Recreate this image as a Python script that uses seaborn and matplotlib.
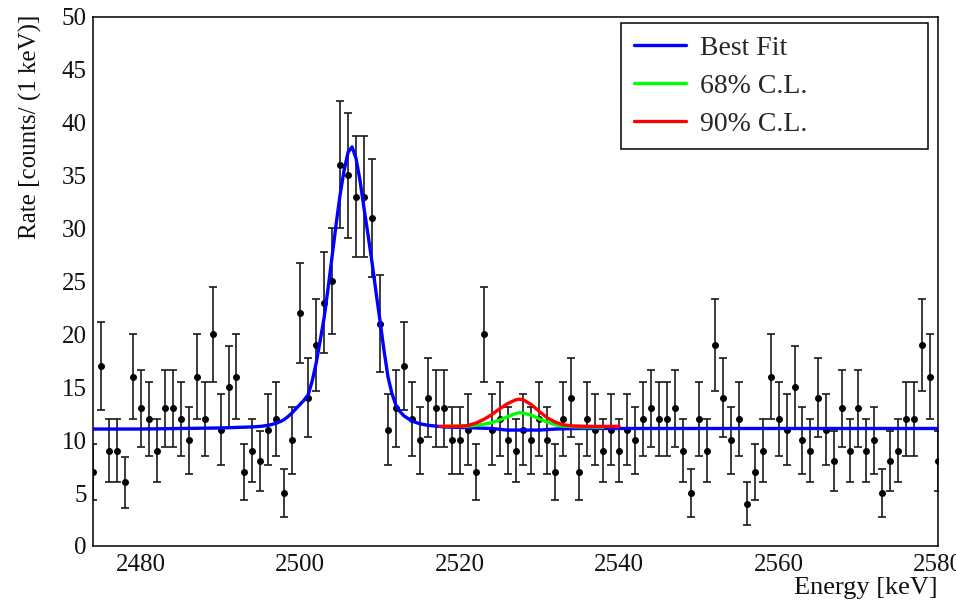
import matplotlib
matplotlib.use("Agg")
import matplotlib.pyplot as plt
import matplotlib.ticker as mticker
from matplotlib.lines import Line2D
import numpy as np
import seaborn as sns

# measured spectrum, one bin per keV
ENERGY = list(range(2474, 2581))
COUNTS = [
    7, 17, 9, 9, 6, 16, 13, 12, 9, 13,
    13, 12, 10, 16, 12, 20, 11, 15, 16, 7,
    9, 8, 11, 12, 5, 10, 22, 14, 19, 23,
    25, 36, 35, 33, 33, 31, 21, 11, 13, 17,
    12, 10, 14, 13, 13, 10, 10, 11, 7, 20,
    11, 12, 10, 9, 11, 10, 12, 10, 7, 12,
    14, 7, 12, 11, 9, 11, 9, 11, 10, 12,
    13, 12, 12, 13, 9, 5, 12, 9, 19, 14,
    10, 12, 4, 7, 9, 16, 12, 11, 15, 10,
    9, 14, 11, 8, 13, 9, 13, 9, 10, 5,
    8, 9, 12, 12, 19, 16, 8,
]

# best fit curve
FIT_E = [2474, 2480, 2485, 2490, 2492, 2494, 2495, 2496, 2497, 2497.5,
         2498, 2498.5, 2499, 2499.5, 2500, 2500.5, 2501, 2501.5, 2502, 2502.5,
         2503, 2503.5, 2504, 2504.5, 2505, 2505.5, 2506, 2506.5, 2507, 2507.5,
         2508, 2508.5, 2509, 2509.5, 2510, 2510.5, 2511, 2511.5, 2512, 2512.5,
         2513, 2514, 2515, 2516, 2518, 2520, 2524, 2526, 2530, 2532,
         2535, 2580]
FIT_RATE = [11.05, 11.05, 11.1, 11.15, 11.2, 11.25, 11.3, 11.4, 11.6, 11.75,
            11.95, 12.25, 12.6, 13.0, 13.4, 13.8, 14.3, 15.6, 17.3, 19.4,
            21.6, 24.4, 27.4, 30.4, 33.2, 35.5, 37.2, 37.7, 36.6, 34.5,
            31.9, 29.4, 26.8, 24.0, 21.3, 18.5, 16.0, 14.4, 13.3, 12.7,
            12.3, 11.8, 11.55, 11.4, 11.25, 11.2, 11.1, 10.95, 10.95, 11.05,
            11.1, 11.1]

# 68% C.L. curve
CL68_E = [2518, 2521, 2522, 2523, 2524, 2525, 2526, 2527, 2527.5, 2528,
          2529, 2530, 2531, 2532, 2533, 2535, 2538]
CL68_RATE = [11.3, 11.32, 11.4, 11.5, 11.65, 11.9, 12.2, 12.5, 12.6, 12.55,
             12.35, 12.0, 11.7, 11.45, 11.32, 11.25, 11.22]

# 90% C.L. curve
CL90_E = [2517.5, 2520, 2521, 2522, 2523, 2524, 2525, 2526, 2527, 2527.5,
          2528, 2529, 2530, 2531, 2532, 2533, 2534, 2536, 2540]
CL90_RATE = [11.3, 11.32, 11.38, 11.6, 11.95, 12.4, 12.95, 13.45, 13.8, 13.87,
             13.8, 13.35, 12.7, 12.1, 11.7, 11.45, 11.35, 11.3, 11.3]

LEGEND_LABELS = ["Best Fit", "68% C.L.", "90% C.L."]
COLORS = ["#0000ff", "#00ff00", "#ff0000"]

W, H = 956, 600
FONT = ["Liberation Serif", "DejaVu Serif"]

sns.set_theme(style="white")
plt.rcParams["font.family"] = FONT

fig = plt.figure(figsize=(W / 100, H / 100), dpi=100)
# axes frame in pixels: x 93..938, y 16.7..546
ax = fig.add_axes([93 / W, 1 - 546 / H, (938 - 93) / W, (546 - 16.7) / H])

counts = np.array(COUNTS, dtype=float)
ax.errorbar(ENERGY, counts, yerr=np.sqrt(counts), fmt="o", ms=4.0,
            color="black", ecolor="#1a1a1a", elinewidth=1.2, capsize=2.6,
            capthick=1.2, zorder=2)

sns.lineplot(x=FIT_E, y=FIT_RATE, ax=ax, color=COLORS[0], lw=2.4,
             sort=False, estimator=None, zorder=3)
sns.lineplot(x=CL68_E, y=CL68_RATE, ax=ax, color=COLORS[1], lw=2.4,
             sort=False, estimator=None, zorder=4)
sns.lineplot(x=CL90_E, y=CL90_RATE, ax=ax, color=COLORS[2], lw=2.4,
             sort=False, estimator=None, zorder=5)

ax.set_xlim(2474, 2580)
ax.set_ylim(0, 50)
ax.xaxis.set_major_locator(mticker.MultipleLocator(20))
ax.xaxis.set_minor_locator(mticker.MultipleLocator(5))
ax.yaxis.set_major_locator(mticker.MultipleLocator(5))
ax.yaxis.set_minor_locator(mticker.MultipleLocator(1))

ax.tick_params(axis="both", which="both", direction="in", top=False,
               right=False, color="black", width=1.1, labelsize=18,
               labelcolor="#111111")
ax.tick_params(axis="x", which="major", length=11.5, pad=6)
ax.tick_params(axis="x", which="minor", length=5.8)
ax.tick_params(axis="y", which="major", length=19.4, pad=4.5)
ax.tick_params(axis="y", which="minor", length=9.4)
for sp in ax.spines.values():
    sp.set_color("black")
    sp.set_linewidth(1.1)
ax.set_xlabel("")
ax.set_ylabel("")

fig.text(938 / W, 1 - 594 / H, "Energy [keV]", ha="right", va="baseline",
         fontsize=19, color="#111111")
fig.text(30 / W, 1 - 15 / H, "Rate [counts/ (1 keV)]", rotation=90,
         ha="center", va="top", fontsize=18, color="#111111")

handles = [Line2D([], [], color=c, lw=2.4) for c in COLORS]
leg = ax.legend(handles, LEGEND_LABELS, loc="upper left",
                bbox_to_anchor=(0.625, 0.748, 0.3633, 0.240), mode="expand",
                borderaxespad=0, frameon=True, fancybox=False, framealpha=1,
                edgecolor="black", fontsize=20, handlelength=1.9,
                handletextpad=0.5, labelspacing=0.45, borderpad=0.45)
leg.get_frame().set_linewidth(1.1)

fig.savefig("out.png", dpi=100)
